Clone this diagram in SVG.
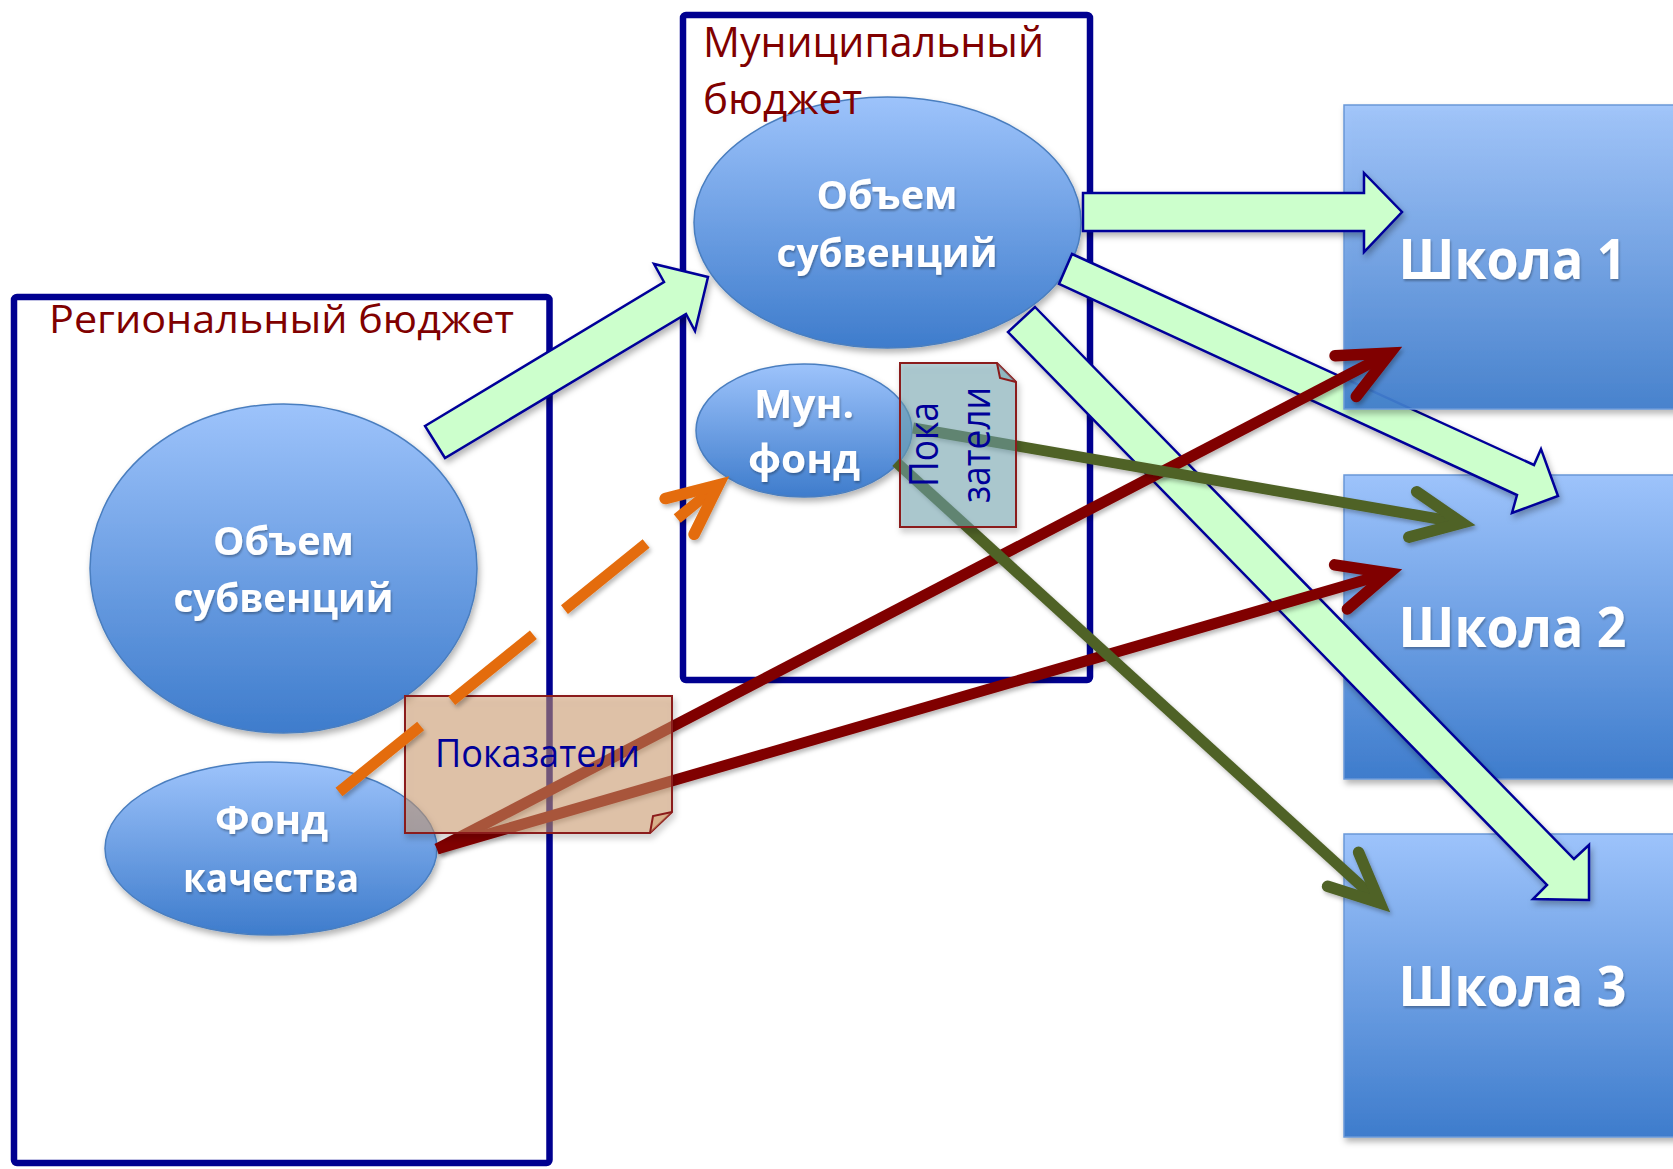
<svg xmlns="http://www.w3.org/2000/svg" width="1673" height="1169" viewBox="0 0 1673 1169">
<defs>
  <linearGradient id="gBlue" x1="0" y1="0" x2="0" y2="1">
    <stop offset="0" stop-color="#9DC3FB"/>
    <stop offset="1" stop-color="#3E7CCC"/>
  </linearGradient>
  <filter id="sh" filterUnits="userSpaceOnUse" x="0" y="0" width="1673" height="1169">
    <feDropShadow dx="2" dy="4" stdDeviation="3" flood-color="#000" flood-opacity="0.3"/>
  </filter>
  <filter id="shL" filterUnits="userSpaceOnUse" x="0" y="0" width="1673" height="1169">
    <feDropShadow dx="2" dy="3" stdDeviation="2" flood-color="#000" flood-opacity="0.28"/>
  </filter>
  <filter id="tsh" filterUnits="userSpaceOnUse" x="0" y="0" width="1673" height="1169">
    <feDropShadow dx="1" dy="2" stdDeviation="1.2" flood-color="#000" flood-opacity="0.3"/>
  </filter>
  <marker id="mRed" markerUnits="userSpaceOnUse" orient="auto" overflow="visible" markerWidth="1" markerHeight="1">
    <path d="M-50,-23 L0,0 L-50,23" fill="none" stroke="#800000" stroke-width="11.5" stroke-linecap="round" stroke-linejoin="miter"/>
  </marker>
  <marker id="mGrn" markerUnits="userSpaceOnUse" orient="auto" overflow="visible" markerWidth="1" markerHeight="1">
    <path d="M-50,-23 L0,0 L-50,23" fill="none" stroke="#4F6228" stroke-width="11.5" stroke-linecap="round" stroke-linejoin="miter"/>
  </marker>
  <marker id="mOrg" markerUnits="userSpaceOnUse" orient="auto" overflow="visible" markerWidth="1" markerHeight="1">
    <path d="M-50,-23 L0,0 L-50,23" fill="none" stroke="#E46C0A" stroke-width="11.5" stroke-linecap="round" stroke-linejoin="miter"/>
  </marker>
</defs>
<style>
  .frame{fill:none;stroke:#000090;stroke-width:6.5;stroke-linejoin:round}
  .title{font-family:"Open Sans","Liberation Sans",sans-serif;fill:#800000}
  .oval{fill:url(#gBlue);stroke:#4A7EBF;stroke-width:1.5;filter:url(#sh)}
  .school{fill:url(#gBlue);stroke:#6A98D8;stroke-width:1.5;filter:url(#sh)}
  .lbl{font-family:"Open Sans","Liberation Sans",sans-serif;font-weight:bold;fill:#fff;text-anchor:middle;filter:url(#tsh)}
  .blk{fill:#CCFFCC;stroke:#000099;stroke-width:2.5;stroke-linejoin:miter;filter:url(#sh)}
  .ln{fill:none;stroke-width:11;filter:url(#shL)}
  .red{stroke:#800000;marker-end:url(#mRed)}
  .grn{stroke:#4F6228;marker-end:url(#mGrn)}
  .org{stroke:#E46C0A;stroke-dasharray:105 40;marker-end:url(#mOrg)}
  .noteA{fill:#D29E6E;fill-opacity:0.5;stroke:#8B1A1A;stroke-width:2;filter:url(#sh)}
  .noteB{fill:#74A8B4;fill-opacity:0.5;stroke:#8B1A1A;stroke-width:2;filter:url(#sh)}
  .fold{fill-opacity:0.5;stroke:#8B1A1A;stroke-width:2}
  .ntxt{font-family:"Open Sans","Liberation Sans",sans-serif;fill:#000099;text-anchor:middle}
</style>
<rect x="0" y="0" width="1673" height="1169" fill="#ffffff"/>

<g id="regional-budget">
  <rect class="frame" x="14" y="297" width="535.5" height="866" rx="3"/>
  <text class="title" x="49" y="333" font-size="38" textLength="465" lengthAdjust="spacingAndGlyphs">Региональный бюджет</text>
</g>

<g id="regional-subventions">
  <ellipse class="oval" cx="283.5" cy="568.5" rx="193.5" ry="164.5"/>
  <text class="lbl" x="283.5" y="555" font-size="40" textLength="141" lengthAdjust="spacingAndGlyphs">Объем</text>
  <text class="lbl" x="283.5" y="612" font-size="40" textLength="220" lengthAdjust="spacingAndGlyphs">субвенций</text>
</g>

<g id="quality-fund">
  <ellipse class="oval" cx="271" cy="848.5" rx="166" ry="86.5"/>
  <text class="lbl" x="271.5" y="834" font-size="40" textLength="113" lengthAdjust="spacingAndGlyphs">Фонд</text>
  <text class="lbl" x="271" y="892" font-size="40" textLength="176" lengthAdjust="spacingAndGlyphs">качества</text>
</g>

<g id="municipal-budget">
  <rect class="frame" x="683" y="15" width="407" height="665" rx="3"/>
</g>

<g id="municipal-subventions">
  <ellipse class="oval" cx="887.5" cy="222.5" rx="193.5" ry="125.5"/>
  <text class="lbl" x="887" y="209" font-size="40" textLength="141" lengthAdjust="spacingAndGlyphs">Объем</text>
  <text class="lbl" x="887" y="267" font-size="40" textLength="221" lengthAdjust="spacingAndGlyphs">субвенций</text>
</g>

<g id="municipal-title">
  <text class="title" x="703" y="57" font-size="42" textLength="341" lengthAdjust="spacingAndGlyphs">Муниципальный</text>
  <text class="title" x="703" y="114" font-size="42" textLength="159" lengthAdjust="spacingAndGlyphs">бюджет</text>
</g>

<g id="mun-fund">
  <ellipse class="oval" cx="804" cy="430.5" rx="108" ry="66.5"/>
  <text class="lbl" x="804" y="418" font-size="40" textLength="100" lengthAdjust="spacingAndGlyphs">Мун.</text>
  <text class="lbl" x="804" y="473" font-size="40" textLength="112" lengthAdjust="spacingAndGlyphs">фонд</text>
</g>

<g id="school-2">
  <rect class="school" x="1344" y="475" width="340" height="304"/>
  <text class="lbl" x="1512.5" y="647" font-size="56" textLength="228" lengthAdjust="spacingAndGlyphs">Школа 2</text>
</g>
<g id="school-3">
  <rect class="school" x="1344" y="834" width="340" height="303"/>
  <text class="lbl" x="1512.5" y="1006" font-size="56" textLength="228" lengthAdjust="spacingAndGlyphs">Школа 3</text>
</g>

<g id="connectors">
  <polygon class="blk" points="1072,254 1534,465 1541,449 1558,496 1512,513 1517,495 1059,284"/>
  <polygon class="blk" points="1035,307 1574,859 1589,845 1589,900 1533,899 1547,885 1008,332"/>
</g>

<g id="school-1">
  <rect class="school" x="1344" y="105" width="340" height="304" fill-opacity="0.92"/>
  <text class="lbl" x="1512.5" y="279" font-size="56" textLength="228" lengthAdjust="spacingAndGlyphs">Школа 1</text>
</g>

<g id="connectors-2">
  <polygon class="blk" points="1083,193 1364,193 1364,173 1402,212 1364,252 1364,231 1083,231"/>
  <polygon class="blk" points="425,426 664,282 654,264 708,277 695,331 686,314 445,458"/>
  <path class="ln red" d="M437,849 L1390,353"/>
  <path class="ln red" d="M437,849 L1389,573"/>
  <path class="ln grn" d="M913,428 L1462,523"/>
  <path class="ln grn" d="M896,462 L1380,903"/>
</g>

<g id="note-regional">
  <path class="noteA" d="M405,696 H672 V812 L650,833 H405 Z"/>
  <path class="fold" fill="#D29E6E" d="M672,812 L653,816 L650,833"/>
  <text class="ntxt" x="537.5" y="767" font-size="38" textLength="205" lengthAdjust="spacingAndGlyphs">Показатели</text>
</g>

<g id="note-municipal">
  <path class="noteB" d="M900,363 H997 L1016,382 V527 H900 Z"/>
  <path class="fold" fill="#74A8B4" d="M997,363 L1000,378 L1016,382"/>
  <text class="ntxt" transform="translate(938,444.5) rotate(-90)" font-size="40" textLength="85" lengthAdjust="spacingAndGlyphs">Пока</text>
  <text class="ntxt" transform="translate(990,445) rotate(-90)" font-size="40" textLength="116" lengthAdjust="spacingAndGlyphs">затели</text>
</g>

<g id="connectors-3">
  <path class="ln org" d="M339,792 L718.5,485"/>
</g>
</svg>
